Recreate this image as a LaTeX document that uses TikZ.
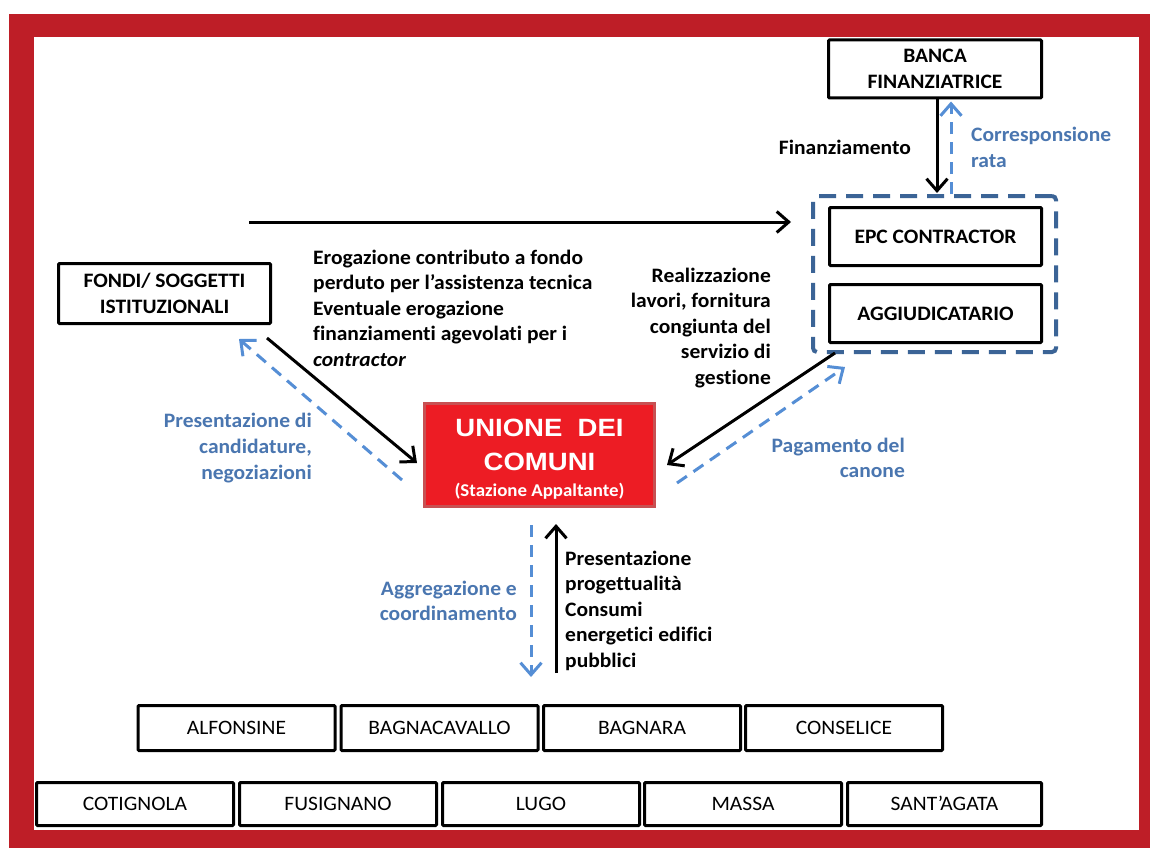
\documentclass[tikz,border=0pt]{standalone}
\usepackage{fontspec}
\setmainfont{Carlito}[FakeStretch=1.05, Ligatures=NoCommon]
\newfontfamily\arialfam{Liberation Sans}[FakeStretch=1.1]
\usetikzlibrary{arrows.meta,calc}

\definecolor{framered}{RGB}{190,30,39}
\definecolor{unionered}{RGB}{237,28,36}
\definecolor{unionedge}{RGB}{200,80,82}
\definecolor{textblue}{RGB}{74,118,176}
\definecolor{dashblue}{RGB}{85,142,213}
\definecolor{groupblue}{RGB}{59,100,150}

% multi-line text blocks whose baseline is the first line
\newcommand\blockl[1]{\begin{tabular}[t]{@{}l@{}}#1\end{tabular}}
\newcommand\blockr[1]{\begin{tabular}[t]{@{}r@{}}#1\end{tabular}}

\tikzset{
  framebox/.style={draw=black, line width=3pt, fill=white, rounded corners=1pt,
    inner sep=0pt, align=center},
  keybox/.style={framebox, font=\bfseries\fontsize{20.5}{25.5}\selectfont,
    minimum width=212pt, minimum height=58pt},
  townbox/.style={framebox, font=\fontsize{20.5}{24}\selectfont,
    minimum width=197pt, text height=13.2pt, text depth=0pt},
  lbl/.style={inner sep=0pt, font=\bfseries\fontsize{20.5}{25.5}\selectfont},
  bluelbl/.style={lbl, text=textblue},
  flow/.style={line width=3pt, -{Straight Barb[length=12pt,width=21pt]}},
  back/.style={flow, draw=dashblue, dash pattern=on 12pt off 8pt},
  groupbox/.style={draw=groupblue, line width=4pt, dash pattern=on 17pt off 10pt,
    rounded corners=4pt, minimum width=243pt, minimum height=156pt, inner sep=0pt},
}

\begin{document}
\begin{tikzpicture}[x=1pt,y=-1pt]
\useasboundingbox (0,0) rectangle (1150,848);

% red frame
\fill[framered] (9,14) rectangle (1150,848);
\fill[white] (34,37) rectangle (1139,830);

% main actors
\node[keybox, minimum width=213pt] (banca) at (935,69) {BANCA\\FINANZIATRICE};
\node[groupbox] (group) at (934.5,274) {};
\node[keybox] (epc) at (935.5,236.5) {EPC CONTRACTOR};
\node[keybox] (aggiu) at (935.5,313.5) {AGGIUDICATARIO};
\node[keybox, minimum height=60pt] (fondi) at (164.5,293.5) {FONDI/ SOGGETTI\\ISTITUZIONALI};
\node[fill=unionered, draw=unionedge, line width=3pt, minimum width=230pt,
      minimum height=103pt, inner sep=0pt, text=white, align=center,
      font=\arialfam\bfseries\fontsize{25}{34}\selectfont]
  (unione) at (539.5,455)
  {\rule{0pt}{26pt}UNIONE\ \ DEI\\COMUNI\\[-8pt]{\rmfamily\bfseries\fontsize{18}{20}\selectfont (Stazione Appaltante)}};

% member municipalities
\node[townbox, minimum height=45pt] (alfonsine) at (236.5,728) {ALFONSINE};
\node[townbox, minimum height=45pt] (bagnacavallo) at (439.5,728) {BAGNACAVALLO};
\node[townbox, minimum height=45pt] (bagnara) at (642,728) {BAGNARA};
\node[townbox, minimum height=45pt] (conselice) at (844,728) {CONSELICE};
\node[townbox, minimum height=43pt] (cotignola) at (135,804) {COTIGNOLA};
\node[townbox, minimum height=43pt] (fusignano) at (338,804) {FUSIGNANO};
\node[townbox, minimum height=43pt] (lugo) at (541,804) {LUGO};
\node[townbox, minimum height=43pt] (massa) at (743,804) {MASSA};
\node[townbox, minimum height=43pt, minimum width=194pt] (santagata) at (944.5,804) {SANT’AGATA};

% flows between bank and contractor
\draw[flow] ($(banca.south)+(2,0)$) -- ($(group.north)+(2.5,-1)$);
\draw[back] ($(group.north)+(16.5,0)$) -- ($(banca.south)+(16,2)$);
\node[lbl, anchor=base east] (lblfin) at (911,154) {Finanziamento};
\node[bluelbl, anchor=base west] (lblrata) at (971,142) {\blockl{Corresponsione\\rata}};

% grants towards the contractor
\coordinate (erogA) at (249,222);
\coordinate (erogB) at (791,222);
\draw[flow] (erogA) -- (erogB);
\node[lbl, anchor=base west] (lblerog) at (313,264)
  {\blockl{Erogazione contributo a fondo\\perduto per l’assistenza tecnica\\Eventuale erogazione\\finanziamenti agevolati per i\\\itshape contractor}};

% funding bodies <-> union
\draw[flow] ($(fondi.south east)+(-5,13)$) -- ($(unione.west)+(-6,8)$);
\draw[back] ($(unione.west)+(-21,25)$) -- ($(fondi.south east)+(-33,14)$);
\node[bluelbl, anchor=base east] (lblcand) at (312,427)
  {\begin{tabular}[t]{@{}r@{}}Presentazione di\\[0.8pt]candidature,\\[0.8pt]negoziazioni\end{tabular}};

% contractor <-> union
\draw[flow] ($(aggiu.south west)+(7,9)$) -- ($(unione.east)+(11,10)$);
\draw[back] ($(unione.east)+(21,28)$) -- ($(aggiu.south west)+(17,23)$);
\node[lbl, anchor=base east] (lblreal) at (771,282)
  {\blockr{Realizzazione\\lavori, fornitura\\congiunta del\\servizio di\\gestione}};
\node[bluelbl, anchor=base east] (lblcanone) at (905,452) {\blockr{Pagamento del\\canone}};

% union <-> municipalities
\draw[back] ($(unione.south)+(-8.5,17)$) -- ($(unione.south)+(-8.5,169)$);
\draw[flow] ($(unione.south)+(16.5,165)$) -- ($(unione.south)+(16.5,16)$);
\node[bluelbl, anchor=base east] (lblaggr) at (517,595) {\blockr{Aggregazione e\\coordinamento}};
\node[lbl, anchor=base west] (lblprog) at (565,565)
  {\blockl{Presentazione\\progettualità\\Consumi\\energetici edifici\\pubblici}};
\end{tikzpicture}
\end{document}
